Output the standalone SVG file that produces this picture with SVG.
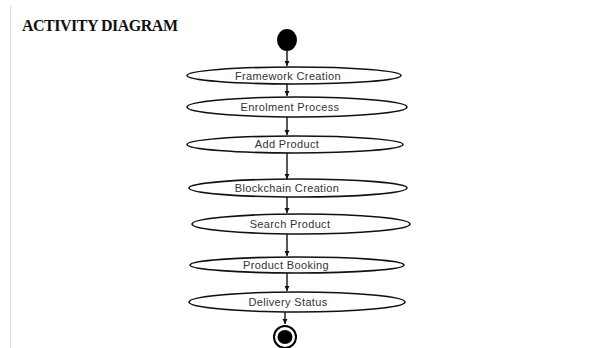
<svg xmlns="http://www.w3.org/2000/svg" width="606" height="348" viewBox="0 0 606 348">
<style>
.act{fill:#fff;stroke:#111;stroke-width:1.6}
.lbl{font-family:"Liberation Sans",Arial,sans-serif;font-size:11px;fill:#333;text-anchor:middle;letter-spacing:0.35px}
.edge{stroke:#111;stroke-width:1.4;fill:none;marker-end:url(#ah)}
</style>
<defs>
<marker id="ah" markerWidth="6" markerHeight="6" refX="5" refY="3" orient="auto" markerUnits="userSpaceOnUse">
<path d="M0,0.5 L5,3 L0,5.5 z" fill="#111"/>
</marker>
</defs>
<rect width="606" height="348" fill="#fff"/>
<line x1="10.5" y1="6" x2="10.5" y2="348" stroke="#ddd" stroke-width="1"/>
<text x="22" y="31" font-family="'Liberation Serif','Times New Roman',serif" font-weight="bold" font-size="16" fill="#111" textLength="156">ACTIVITY DIAGRAM</text>
<g id="connectors">
<line class="edge" x1="287" y1="50" x2="287" y2="66"/>
<line class="edge" x1="287" y1="84" x2="287" y2="96"/>
<line class="edge" x1="287" y1="117" x2="287" y2="135"/>
<line class="edge" x1="287" y1="153" x2="287" y2="179"/>
<line class="edge" x1="287" y1="197" x2="287" y2="213"/>
<line class="edge" x1="287" y1="234" x2="287" y2="256"/>
<line class="edge" x1="287" y1="273" x2="287" y2="291"/>
<line class="edge" x1="285" y1="312" x2="285" y2="324"/>
</g>
<g id="start"><ellipse cx="287" cy="40" rx="10" ry="11" fill="#000"/></g>
<g id="n1"><ellipse class="act" cx="294" cy="75.5" rx="107" ry="8.5"/><text class="lbl" x="288" y="80">Framework Creation</text></g>
<g id="n2"><ellipse class="act" cx="297" cy="107" rx="110" ry="10"/><text class="lbl" x="290" y="111">Enrolment Process</text></g>
<g id="n3"><ellipse class="act" cx="295" cy="144.5" rx="108" ry="8.5"/><text class="lbl" x="287" y="148">Add Product</text></g>
<g id="n4"><ellipse class="act" cx="298" cy="188" rx="109" ry="9"/><text class="lbl" x="287" y="192">Blockchain Creation</text></g>
<g id="n5"><ellipse class="act" cx="301" cy="224" rx="109" ry="10"/><text class="lbl" x="290" y="228">Search Product</text></g>
<g id="n6"><ellipse class="act" cx="297" cy="265" rx="107" ry="8"/><text class="lbl" x="286" y="269">Product Booking</text></g>
<g id="n7"><ellipse class="act" cx="297" cy="302" rx="108" ry="10"/><text class="lbl" x="288" y="306">Delivery Status</text></g>
<g id="end"><circle cx="285" cy="337" r="11" fill="#fff" stroke="#000" stroke-width="2"/><ellipse cx="285" cy="337" rx="7.5" ry="7" fill="#000"/></g>
</svg>
